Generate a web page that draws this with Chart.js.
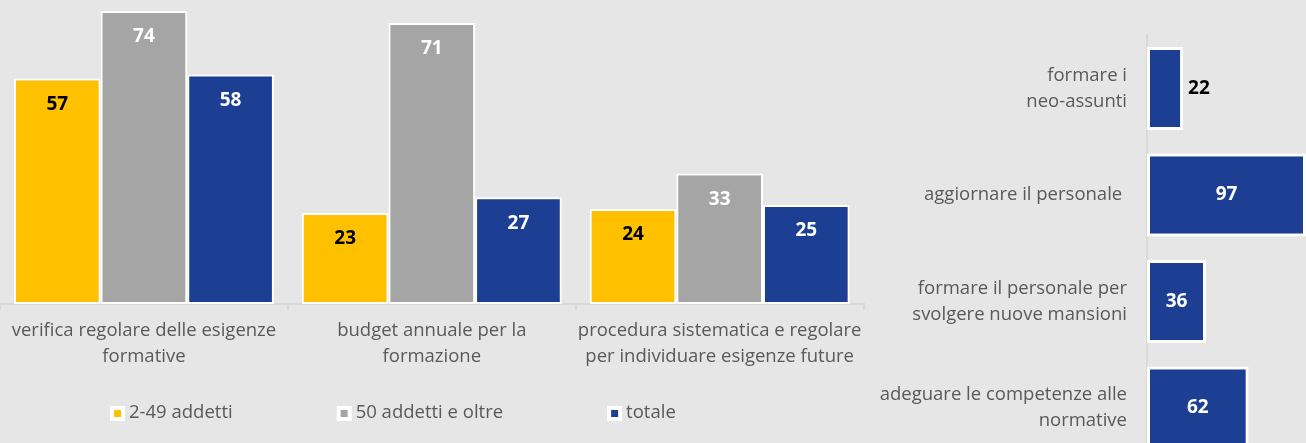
<!DOCTYPE html>
<html>
<head>
<meta charset="utf-8">
<script src="https://cdn.jsdelivr.net/npm/chart.js@4"></script>
<style>
  html, body { margin: 0; padding: 0; width: 1306px; height: 443px; overflow: hidden; background: #e6e6e6; }
  #left { position: absolute; left: 0; top: 0; }
  #right { position: absolute; left: 866px; top: 0; }
</style>
</head>
<body>
<canvas id="left" width="870" height="443"></canvas>
<canvas id="right" width="440" height="470"></canvas>
<script>
// left chart: grouped bars
const leftCategories = [
  ['verifica regolare delle esigenze', 'formative'],
  ['budget annuale per la', 'formazione'],
  ['procedura sistematica e regolare', 'per individuare esigenze future']
];
const smallFirms = [57, 23, 24];
const largeFirms = [74, 71, 33];
const allFirms = [58, 27, 25];

// right chart: horizontal bars
const rightCategories = [
  ['formare i', 'neo-assunti'],
  'aggiornare il personale ',
  ['formare il personale per', 'svolgere nuove mansioni'],
  ['adeguare le competenze alle', 'normative']
];
const rightValues = [22, 97, 36, 62];

const YELLOW = '#ffc000';
const GREY = '#a5a5a5';
const BLUE = '#1c3f94';
const TEXT = '#595959';
const AXIS = '#d9d9d9';
const FONT = '"Open Sans", sans-serif';

const valueLabels = {
  id: 'valueLabels',
  afterDatasetsDraw(chart) {
    const ctx = chart.ctx;
    const horizontal = chart.options.indexAxis === 'y';
    ctx.save();
    ctx.font = 'bold 19px ' + FONT;
    ctx.textBaseline = 'middle';
    chart.data.datasets.forEach((ds, di) => {
      chart.getDatasetMeta(di).data.forEach((bar, i) => {
        const v = ds.data[i];
        if (horizontal) {
          if (v < 30) {
            // too short, label goes outside
            ctx.fillStyle = '#000';
            ctx.textAlign = 'left';
            ctx.fillText(v, bar.x + 5, bar.y);
          } else {
            ctx.fillStyle = '#fff';
            ctx.textAlign = 'center';
            ctx.fillText(v, (bar.x + bar.base) / 2, bar.y);
          }
        } else {
          ctx.fillStyle = ds.labelColor;
          ctx.textAlign = 'center';
          ctx.fillText(v, bar.x, bar.y + 26);
        }
      });
    });
    ctx.restore();
  }
};

// excel-like legend with wide gaps between entries
const wideLegend = {
  id: 'wideLegend',
  afterDraw(chart) {
    const ctx = chart.ctx;
    const y = 413;
    let x = 110;
    ctx.save();
    ctx.font = '18.5px ' + FONT;
    ctx.textBaseline = 'middle';
    ctx.textAlign = 'left';
    chart.data.datasets.forEach(ds => {
      ctx.fillStyle = '#fff';
      ctx.fillRect(x, y - 7, 15, 15);
      ctx.fillStyle = ds.backgroundColor;
      ctx.fillRect(x + 4, y - 3, 7, 7);
      ctx.fillStyle = TEXT;
      ctx.fillText(ds.label, x + 19, y);
      x += 19 + ctx.measureText(ds.label).width + 104;
    });
    ctx.restore();
  }
};

new Chart(document.getElementById('left'), {
  type: 'bar',
  data: {
    labels: leftCategories,
    datasets: [
      { label: '2-49 addetti', data: smallFirms, backgroundColor: YELLOW, labelColor: '#000' },
      { label: '50 addetti e oltre', data: largeFirms, backgroundColor: GREY, labelColor: '#fff' },
      { label: 'totale', data: allFirms, backgroundColor: BLUE, labelColor: '#fff' }
    ]
  },
  options: {
    responsive: false,
    animation: false,
    layout: { padding: { left: 0, right: 3, top: 0, bottom: 0 } },
    datasets: {
      bar: {
        categoryPercentage: 0.903,
        barPercentage: 1,
        borderColor: '#fff',
        borderWidth: 2,
        borderSkipped: false
      }
    },
    scales: {
      x: {
        grid: { offset: true, drawOnChartArea: false, color: AXIS, lineWidth: 2, tickLength: 6 },
        border: { display: true, color: AXIS, width: 2 },
        ticks: { color: TEXT, font: { family: FONT, size: 18.5, lineHeight: 1.4 }, padding: 8, maxRotation: 0, autoSkip: false },
        afterFit(scale) { scale.height = 139; }
      },
      y: { display: false, min: 0, max: 76.8 }
    },
    plugins: {
      legend: { display: false },
      tooltip: { enabled: false }
    }
  },
  plugins: [valueLabels, wideLegend]
});

new Chart(document.getElementById('right'), {
  type: 'bar',
  data: {
    labels: rightCategories,
    datasets: [
      { label: 'valori', data: rightValues, backgroundColor: BLUE }
    ]
  },
  options: {
    indexAxis: 'y',
    responsive: false,
    animation: false,
    layout: { padding: { left: 0, right: 0, top: 35.25, bottom: 8.75 } },
    datasets: {
      bar: {
        categoryPercentage: 0.78,
        barPercentage: 1,
        borderColor: '#fff',
        borderWidth: 3,
        borderSkipped: false
      }
    },
    scales: {
      x: { display: false, min: 0, max: 97 },
      y: {
        grid: { drawOnChartArea: false, drawTicks: false },
        border: { display: true, color: AXIS, width: 2 },
        ticks: { color: TEXT, font: { family: FONT, size: 18.5, lineHeight: 1.4 }, padding: 20, autoSkip: false },
        afterFit(scale) {
          scale.width = 281;
          // labels are centred on the bars, no extra room needed
          scale.paddingTop = 0;
          scale.paddingBottom = 0;
        }
      }
    },
    plugins: {
      legend: { display: false },
      tooltip: { enabled: false }
    }
  },
  plugins: [valueLabels]
});
</script>
</body>
</html>
